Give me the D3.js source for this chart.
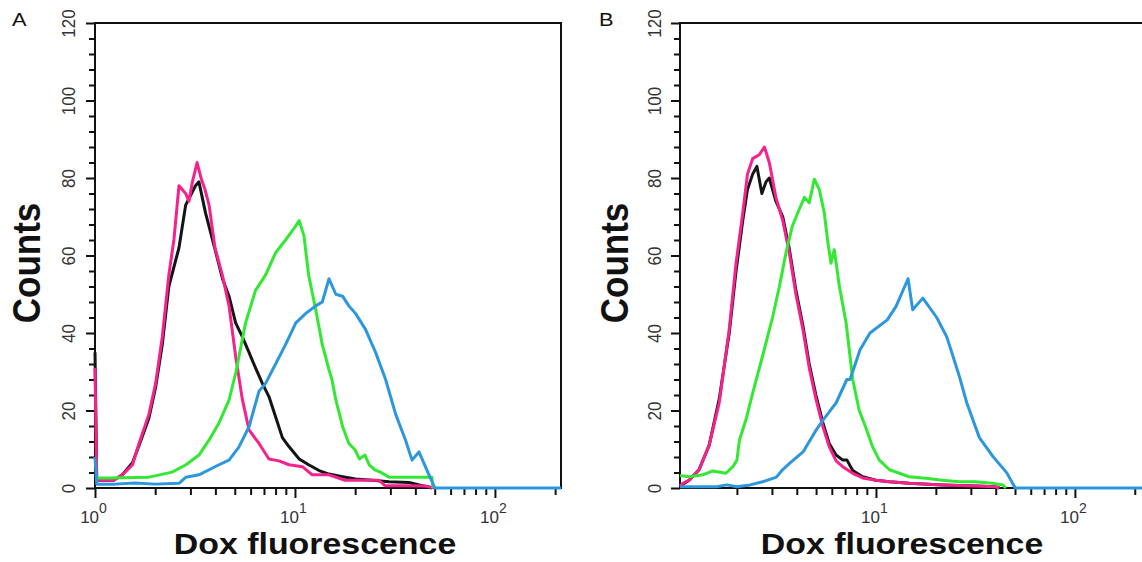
<!DOCTYPE html>
<html>
<head>
<meta charset="utf-8">
<script src="https://cdn.jsdelivr.net/npm/d3@7/dist/d3.min.js"></script>
<style>
  body { margin: 0; background: #fff; }
  svg { display: block; font-family: "Liberation Sans", Arial, Helvetica, sans-serif; }
</style>
</head>
<body>
<svg id="chart" width="1142" height="562"></svg>
<script>

// ---- data: [Dox fluorescence, counts] ----

const aBlack = [[1.00,35],[1.02,2],[1.24,2],[1.37,3.4],[1.54,6.5],[1.66,11],[1.86,18],[2.01,26],[2.17,37],[2.34,52],
  [2.63,62],[2.84,73],[3.18,78],[3.31,79],[3.57,71],[4.01,61],[4.34,54],[4.68,49.5],[5.05,42.6],[5.46,39],[5.89,35],
  [6.35,31],[6.87,27],[7.41,23.6],[8.00,18.4],[8.65,13],[9.33,10.7],[10.5,7.5],[11.7,6],[13.2,4.5],[14.8,3.6],
  [17.3,2.9],[20.1,2.3],[24.4,2],[29.5,1.6],[37.2,1.4],[43.4,0.6],[48.6,0]];

const aMagenta = [[1.00,31],[1.02,2],[1.12,2],[1.24,2],[1.37,3.4],[1.54,6],[1.66,11.5],[1.86,19],[2.01,27],[2.17,39],
  [2.34,55],[2.48,64],[2.63,78],[2.84,76],[2.95,74],[3.07,79],[3.24,84],[3.39,80],[3.55,77],[3.72,73],[3.98,62],
  [4.33,55],[4.68,47],[5.05,34],[5.45,23],[5.89,15],[6.61,11.5],[7.41,7.5],[8.32,7],[9.33,6],[10.9,5.5],[12.2,3.4],
  [14.8,3.4],[17.8,2],[20.0,2],[22.4,2],[26.3,2],[28.2,0.6],[35.5,0.6],[44.7,0.5],[50.1,0]];

const aGreen = [[1.00,2.6],[1.17,2.6],[1.86,2.8],[2.43,4.1],[2.85,6],[3.31,8.5],[3.72,12.4],[4.17,16.8],[4.68,22.7],
  [5.07,30],[5.66,42.6],[6.35,51],[7.13,55],[8.00,60.7],[8.97,64],[9.89,67],[10.5,69],[11.1,65],[11.7,55],[12.7,46],
  [13.7,37],[14.8,30.5],[15.3,28],[16.0,22.8],[17.3,15.9],[18.6,11.5],[20.0,9.8],[21.0,7.5],[22.4,8.5],[23.5,6],
  [25.1,4.7],[27.0,4],[29.5,2.8],[48.4,2.8],[49.0,0]];

const aBlue = [[1.00,8],[1.02,1],[1.26,1],[1.58,1.3],[2.00,1],[2.63,1.2],[2.85,2.8],[3.31,3.4],[4.17,6],[4.68,7.2],
  [5.25,10.6],[5.89,15.8],[6.61,25],[7.13,27],[8.00,32],[8.97,37],[10.1,42.6],[11.3,45],[12.7,47],[13.7,48],
  [14.8,54],[16.0,50],[17.3,49.5],[18.6,47],[20.1,45],[22.5,41],[25.3,35],[28.4,28],[31.9,19],[35.7,12.4],
  [38.5,7.2],[41.7,9.3],[46.8,3.4],[50.1,0],[214,0]];

const bBlack = [[1.035,0.5],[1.07,1],[1.15,2],[1.29,4.7],[1.45,11],[1.63,23],[1.83,40],[1.98,56],[2.14,69],[2.26,77],
  [2.40,81],[2.52,83],[2.67,76],[2.80,79],[2.91,80],[3.14,74],[3.40,70],[3.66,62],[3.96,51],[4.29,42],[4.62,32],
  [4.99,24],[5.40,17],[5.82,11.5],[6.30,8.5],[6.81,7.2],[7.15,7.2],[7.64,4.5],[8.57,2.9],[10.0,2],[11.7,1.6],
  [14.7,1.2],[21.6,0.8],[31.6,0.5],[40.1,0.3],[41.7,0]];

const bMagenta = [[1.035,0.5],[1.07,1.2],[1.15,2],[1.29,4.7],[1.45,11],[1.63,22],[1.83,41],[1.98,58],[2.14,71],
  [2.26,81],[2.40,85],[2.59,86],[2.75,88],[2.91,84],[3.14,75],[3.40,69],[3.66,61],[3.96,50],[4.29,41],[4.62,31],
  [4.99,23],[5.40,16],[5.82,10.7],[6.30,7],[6.81,5.5],[7.64,3.8],[8.57,2.6],[10.0,2],[11.7,1.6],[14.7,1.2],
  [21.6,0.8],[31.6,0.5],[40.1,0.3],[41.7,0]];

const bGreen = [[1.035,3.2],[1.15,2.9],[1.35,3.4],[1.51,4.4],[1.76,3.8],[1.91,5.5],[2.00,7.2],[2.06,12.4],[2.22,17.6],
  [2.40,24.5],[2.69,34],[3.02,44],[3.27,52],[3.53,60.7],[3.80,67.6],[4.12,72],[4.37,75],[4.62,73.6],[4.90,79.7],
  [5.19,77],[5.50,71],[5.71,64],[5.94,58],[6.17,61.5],[6.55,52],[7.08,42.6],[7.64,28],[8.24,20],[8.91,15.5],
  [9.62,10.6],[10.4,7.2],[11.7,4.7],[14.7,2.9],[17.8,2.5],[21.6,2],[26.2,1.6],[31.6,1.6],[38.5,1.2],[43.4,0.8],
  [45.0,0]];

const bBlue = [[1.035,0.3],[1.58,0.3],[1.78,0.8],[2.00,0.3],[2.33,0.8],[2.69,1.6],[3.16,2.8],[3.39,4.7],[3.70,6.5],
  [4.30,9.3],[5.01,15],[5.43,17.6],[6.31,22],[7.14,28],[7.41,28],[8.32,35.7],[9.33,40],[11.4,43.4],[12.6,46.8],
  [14.5,54],[15.3,46],[17.2,49],[20.2,44],[22.7,39],[26.3,28.7],[28.6,22],[33.1,13],[38.9,8],[45.5,3.9],[50.1,0],
  [220,0]];

const yMajorTicks = [0, 20, 40, 60, 80, 100, 120];
const yMinorTicks = [4, 8, 12, 16, 24, 28, 32, 36, 44, 48, 52, 56, 64, 68, 72, 76, 84, 88, 92, 96, 104, 108, 112, 116];
const xMajorTicks = [1, 10, 100];
const xMinorTicks = [2, 3, 4, 5, 6, 7, 8, 9, 20, 30, 40, 50, 60, 70, 80, 90, 200];
const panelNames = ["A", "B"];
const xTitle = "Dox fluorescence";
const yTitle = "Counts";

const colors = { black: "#141414", magenta: "#f5228c", green: "#33e833", blue: "#2c97dd" };

// ---- layout ----
const plotTop = 23, plotBottom = 488;
const panels = [
  { name: panelNames[0], left: 95, right: 561, domain: [1, 214], nameX: 12, yLabelX: 75, titleX: 40, titleCx: 315,
    series: [[aBlack, colors.black], [aMagenta, colors.magenta], [aGreen, colors.green], [aBlue, colors.blue]] },
  { name: panelNames[1], left: 680, right: 1143, domain: [1.035, 220], nameX: 599, yLabelX: 661, titleX: 628, titleCx: 902,
    series: [[bBlack, colors.black], [bMagenta, colors.magenta], [bGreen, colors.green], [bBlue, colors.blue]] }
];

const svg = d3.select("#chart");

panels.forEach(p => drawPanel(p));

function drawPanel(p) {
  let x = d3.scaleLog().domain(p.domain).range([p.left, p.right]);
  let y = d3.scaleLinear().domain([0, 120]).range([plotBottom, plotTop]);

  let g = svg.append("g");

  // frame (drawn first so the traces sit on top of the baseline, as in the original)
  g.append("path")
    .attr("d", `M${p.left},${plotBottom}V${plotTop}H${p.right}V${plotBottom}Z`)
    .attr("fill", "none")
    .attr("stroke", "#111")
    .attr("stroke-width", 2);

  // y axis
  let yMinor = d3.axisLeft(y).tickValues(yMinorTicks).tickSize(6).tickFormat("");
  let yMajor = d3.axisLeft(y).tickValues(yMajorTicks).tickSize(9);

  g.append("g")
    .attr("transform", `translate(${p.left},0)`)
    .call(yMinor)
    .call(s => s.select(".domain").remove())
    .call(s => s.selectAll("line").attr("stroke", "#111").attr("stroke-width", 2));

  g.append("g")
    .attr("transform", `translate(${p.left},0)`)
    .call(yMajor)
    .call(s => s.select(".domain").remove())
    .call(s => s.selectAll("line").attr("stroke", "#111").attr("stroke-width", 2))
    .call(s => s.selectAll("text")
      .attr("x", null).attr("dy", null)
      .attr("transform", `translate(${p.yLabelX - p.left},0) scale(1.1,1) rotate(-90)`)
      .attr("text-anchor", "middle")
      .attr("font-size", 17)
      .attr("fill", "#333"));

  // x axis
  let xMinor = d3.axisBottom(x)
    .tickValues(xMinorTicks.filter(v => v >= p.domain[0] && v <= p.domain[1]))
    .tickSize(7).tickFormat("");
  let xMajor = d3.axisBottom(x)
    .tickValues(xMajorTicks.filter(v => v >= p.domain[0] && v <= p.domain[1]))
    .tickSize(10).tickFormat("");

  g.append("g")
    .attr("transform", `translate(0,${plotBottom})`)
    .call(xMinor)
    .call(s => s.select(".domain").remove())
    .call(s => s.selectAll("line").attr("stroke", "#111").attr("stroke-width", 2));

  let maj = g.append("g")
    .attr("transform", `translate(0,${plotBottom})`)
    .call(xMajor)
    .call(s => s.select(".domain").remove())
    .call(s => s.selectAll("line").attr("stroke", "#111").attr("stroke-width", 2));

  maj.selectAll(".tick text").remove();
  let lbl = maj.selectAll(".tick").append("text")
    .attr("y", 35)
    .attr("x", -2)
    .attr("text-anchor", "middle")
    .attr("font-size", 17)
    .attr("fill", "#333")
    .text("10");
  lbl.append("tspan")
    .attr("dy", -10)
    .attr("font-size", 14)
    .text(d => Math.round(Math.log10(d)));

  // histogram traces
  let line = d3.line()
    .x(d => x(d[0]))
    .y(d => y(d[1]))
    .curve(d3.curveLinear);

  p.series.forEach(([data, col]) => {
    g.append("path")
      .datum(data.filter(d => d[0] >= p.domain[0] && d[0] <= p.domain[1]))
      .attr("d", line)
      .attr("fill", "none")
      .attr("stroke", col)
      .attr("stroke-width", 3)
      .attr("stroke-linejoin", "round");
  });

  // titles (original lettering is slightly stretched horizontally)
  g.append("text")
    .attr("transform", `translate(${p.titleCx},554) scale(1.13,1)`)
    .attr("text-anchor", "middle")
    .attr("font-size", 30)
    .attr("font-weight", "bold")
    .attr("fill", "#111")
    .text(xTitle);

  g.append("text")
    .attr("transform", `translate(${p.titleX},263) scale(1.13,1) rotate(-90)`)
    .attr("text-anchor", "middle")
    .attr("font-size", 35)
    .attr("font-weight", "bold")
    .attr("fill", "#111")
    .text(yTitle);

  g.append("text")
    .attr("transform", `translate(${p.nameX},26) scale(1.15,1)`)
    .attr("font-size", 19)
    .attr("fill", "#111")
    .text(p.name);
}
</script>
</body>
</html>
